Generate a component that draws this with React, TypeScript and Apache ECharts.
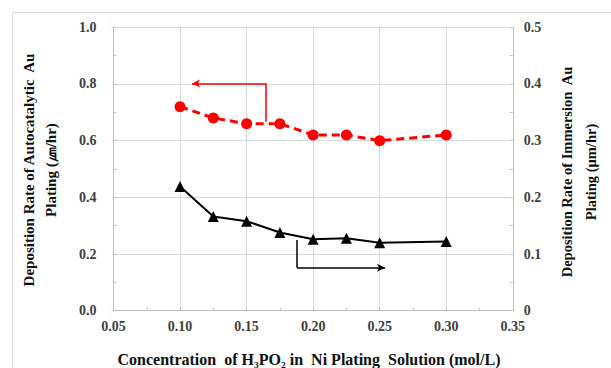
import React, { useEffect, useRef } from "react";
import * as echarts from "echarts";

// H3PO2 concentration in the Ni plating bath (mol/L)
const concentration = [0.1, 0.125, 0.15, 0.175, 0.2, 0.225, 0.25, 0.3];
// Autocatalytic Au deposition rate (left axis, µm/hr)
const autocatalyticRate = [0.72, 0.68, 0.66, 0.66, 0.62, 0.62, 0.6, 0.62];
// Immersion Au deposition rate (right axis, µm/hr)
const immersionRate = [0.219, 0.166, 0.158, 0.138, 0.126, 0.128, 0.12, 0.122];

// Pointer arrows telling which axis each curve belongs to (data coords)
const redArrowPath = [
  [0.1647, 0.667],
  [0.1647, 0.802],
  [0.109, 0.802],
];
const blackArrowPath = [
  [0.188, 0.1247],
  [0.188, 0.0759],
  [0.254, 0.0759],
];

const xTitle = "Concentration  of H₃PO₂ in  Ni Plating  Solution (mol/L)";
const leftTitle = "Deposition Rate of Autocatalytic  Au\nPlating (㎛/hr)";
const rightTitle = "Deposition Rate of Immersion  Au\nPlating (μm/hr)";

const SERIF = '"Liberation Serif", "Times New Roman", serif';
const GRID = "#d9d9d9";
const AXIS = "#bfbfbf";
const LABEL = "#404040";

function arrowLines(path: number[][]) {
  return [
    [
      { coord: path[0], symbol: "none" },
      { coord: path[1], symbol: "none" },
    ],
    [
      { coord: path[1], symbol: "none" },
      { coord: path[2], symbol: "arrow", symbolSize: [6, 8] },
    ],
  ];
}

export default function App() {
  const ref = useRef<HTMLDivElement>(null);

  useEffect(() => {
    if (!ref.current) return;
    const chart = echarts.init(ref.current, undefined, { renderer: "svg" });

    const axisCommon = {
      axisLine: { show: true, lineStyle: { color: AXIS, width: 1 } },
      axisTick: { show: true, inside: true, length: 3, lineStyle: { color: AXIS } },
      minorTick: { show: true, splitNumber: 2, length: 3, lineStyle: { color: AXIS } },
      axisLabel: { color: LABEL, fontFamily: SERIF, fontSize: 14, fontWeight: "bold" },
    };

    chart.setOption({
      animation: false,
      backgroundColor: "#ffffff",
      grid: {
        left: 113.5,
        right: 98.2,
        top: 27.3,
        bottom: 57.3,
        containLabel: false,
        outerBoundsMode: "none",
      },
      xAxis: {
        type: "value",
        min: 0.05,
        max: 0.35,
        interval: 0.05,
        ...axisCommon,
        axisLabel: {
          ...axisCommon.axisLabel,
          margin: 9,
          formatter: (v: number) => v.toFixed(2),
        },
        splitLine: { show: true, lineStyle: { color: GRID, width: 1 } },
      },
      yAxis: [
        {
          type: "value",
          min: 0,
          max: 1,
          interval: 0.2,
          position: "left",
          ...axisCommon,
          axisLabel: {
            ...axisCommon.axisLabel,
            margin: 17,
            formatter: (v: number) => v.toFixed(1),
          },
          splitLine: { show: true, lineStyle: { color: GRID, width: 1 } },
        },
        {
          type: "value",
          min: 0,
          max: 0.5,
          interval: 0.1,
          position: "right",
          ...axisCommon,
          axisLabel: {
            ...axisCommon.axisLabel,
            margin: 11,
            formatter: (v: number) => (v === 0 ? "0" : v.toFixed(1)),
          },
          splitLine: { show: false },
        },
      ],
      graphic: [
        {
          type: "rect",
          silent: true,
          shape: { x: 12.5, y: 12.5, width: 640, height: 420 },
          style: { fill: "none", stroke: GRID, lineWidth: 1 },
          z: -1,
        },
        {
          type: "text",
          x: 40,
          y: 170,
          rotation: Math.PI / 2,
          style: {
            text: leftTitle,
            fontFamily: SERIF,
            fontWeight: "bold",
            fontSize: 15,
            lineHeight: 22,
            fill: "#111",
            align: "center",
            verticalAlign: "middle",
          },
        },
        {
          type: "text",
          x: 579,
          y: 172,
          rotation: Math.PI / 2,
          style: {
            text: rightTitle,
            fontFamily: SERIF,
            fontWeight: "bold",
            fontSize: 14.5,
            lineHeight: 24,
            fill: "#111",
            align: "center",
            verticalAlign: "middle",
          },
        },
        {
          type: "text",
          x: 309,
          y: 359,
          style: {
            text: xTitle,
            fontFamily: SERIF,
            fontWeight: "bold",
            fontSize: 16,
            fill: "#111",
            align: "center",
            verticalAlign: "middle",
          },
        },
      ],
      series: [
        {
          name: "Autocatalytic Au",
          type: "line",
          yAxisIndex: 0,
          data: concentration.map((c, i) => [c, autocatalyticRate[i]]),
          symbol: "circle",
          symbolSize: 11,
          itemStyle: { color: "#ff0000" },
          lineStyle: { color: "#ff0000", width: 3, type: [8, 5] },
          markLine: {
            silent: true,
            animation: false,
            label: { show: false },
            lineStyle: { color: "#ff0000", width: 1.5, type: "solid" },
            data: arrowLines(redArrowPath),
          },
        },
        {
          name: "Immersion Au",
          type: "line",
          yAxisIndex: 1,
          data: concentration.map((c, i) => [c, immersionRate[i]]),
          symbol: "triangle",
          symbolSize: 11,
          itemStyle: { color: "#000000" },
          lineStyle: { color: "#000000", width: 2 },
          markLine: {
            silent: true,
            animation: false,
            label: { show: false },
            lineStyle: { color: "#000000", width: 1.5, type: "solid" },
            data: arrowLines(blackArrowPath),
          },
        },
      ],
    });

    return () => chart.dispose();
  }, []);

  return (
    <div
      ref={ref}
      style={{ position: "fixed", left: 0, top: 0, width: 611, height: 368 }}
    />
  );
}
